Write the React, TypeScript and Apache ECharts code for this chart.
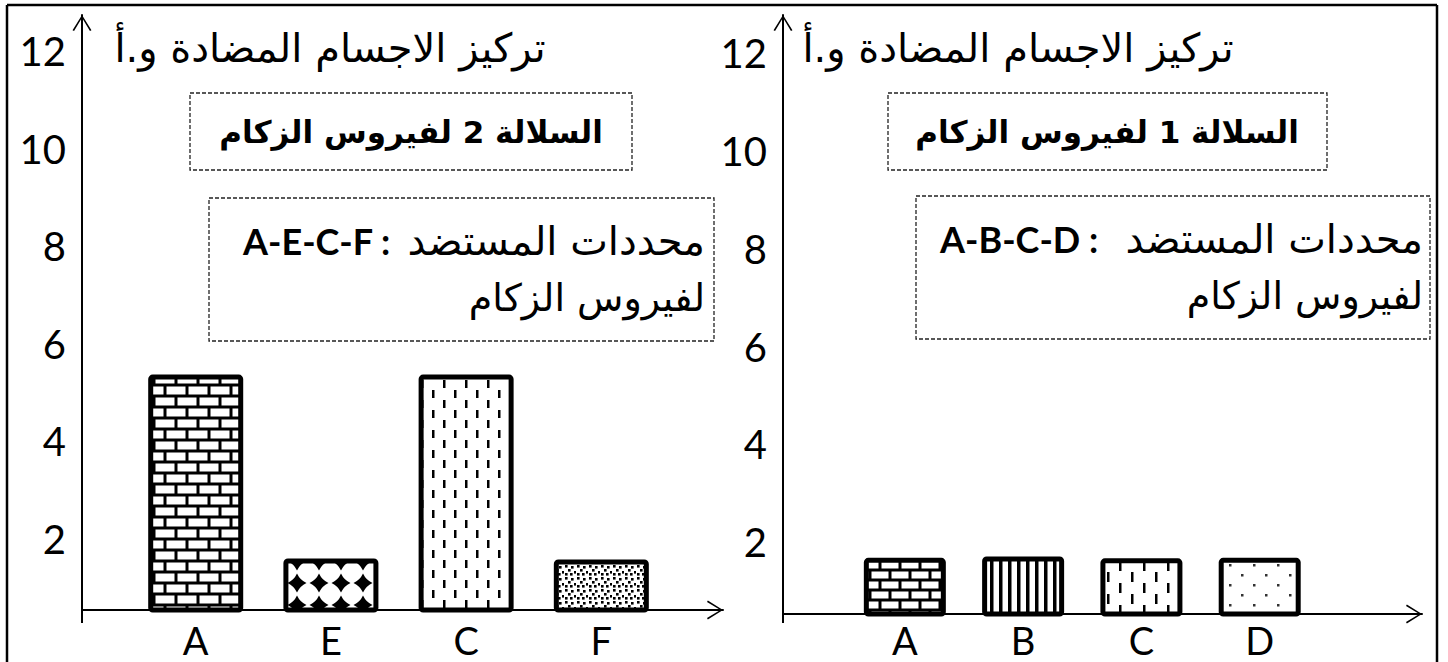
import React, { useEffect, useRef } from "react";
import * as echarts from "echarts";

// ---- data ----
const catsLeft = ["A", "E", "C", "F"];
const valsLeft = [5.37, 1.6, 5.37, 1.58];
const catsRight = ["A", "B", "C", "D"];
const valsRight = [1.68, 1.71, 1.67, 1.68];
const yTicks = [2, 4, 6, 8, 10, 12];

const titleText = "تركيز الاجسام المضادة و.أ";
const strain2 = "السلالة 2 لفيروس الزكام";
const strain1 = "السلالة 1 لفيروس الزكام";
const epitopeLabel = "محددات المستضد";
const fluLine = "لفيروس الزكام";
const epitopesLeft = "A-E-C-F :";
const epitopesRight = "A-B-C-D :";

const ARROW =
  "path://M0,16 L10,0 L20,16 L18.4,16.9 L10,2.8 L1.6,16.9 Z";

function tile(w: number, h: number, draw: (c: CanvasRenderingContext2D) => void) {
  const cv = document.createElement("canvas");
  cv.width = w;
  cv.height = h;
  const ctx = cv.getContext("2d")!;
  ctx.fillStyle = "#fff";
  ctx.fillRect(0, 0, w, h);
  draw(ctx);
  return { image: cv.toDataURL(), imageWidth: w, imageHeight: h, repeat: "repeat" };
}

function brick(W: number, H: number) {
  return tile(W, H * 2, (c) => {
    c.fillStyle = "#000";
    c.fillRect(0, 0, W, H * 2);
    c.fillStyle = "#fff";
    const bw = W - 3;
    const bh = H - 3;
    c.fillRect(1.5, 1.5, bw, bh);
    c.fillRect(-W / 2 + 1.5, H + 1.5, bw, bh);
    c.fillRect(W / 2 + 1.5, H + 1.5, bw, bh);
  });
}

function diamonds() {
  return tile(22, 22, (c) => {
    c.fillStyle = "#000";
    c.beginPath();
    c.moveTo(11, 1.5);
    c.quadraticCurveTo(14, 8, 20.5, 11);
    c.quadraticCurveTo(14, 14, 11, 20.5);
    c.quadraticCurveTo(8, 14, 1.5, 11);
    c.quadraticCurveTo(8, 8, 11, 1.5);
    c.fill();
  });
}

function dashes(W: number, H: number, len: number) {
  return tile(W, H, (c) => {
    c.fillStyle = "#000";
    c.fillRect(3, 0, 2.5, len);
    c.fillRect(3 + W / 2, H / 2, 2.5, len);
  });
}

function stipple() {
  return tile(12, 12, (c) => {
    c.fillStyle = "#000";
    const pts = [
      [1, 1],
      [7, 2],
      [4, 5],
      [10, 7],
      [1, 9],
      [6, 9],
    ];
    pts.forEach(([x, y]) => c.fillRect(x, y, 2.6, 2.6));
  });
}

function stripes() {
  return tile(9, 4, (c) => {
    c.fillStyle = "#000";
    c.fillRect(0, 0, 3.5, 4);
  });
}

function dots() {
  return tile(24, 20, (c) => {
    c.fillStyle = "#333";
    c.fillRect(5, 4, 2.5, 2.5);
    c.fillRect(17, 14, 2.5, 2.5);
  });
}

const LABEL_FONT = "Lato";
const AR_FONT = "DejaVu Sans";

function axisPair(
  gridIndex: number,
  xmin: number,
  xmax: number,
  ymin: number,
  ymax: number,
  cats: string[],
  xLabelMargin: number
) {
  const line = {
    show: true,
    onZero: false,
    lineStyle: { color: "#000", width: 2 },
    symbol: ["none", ARROW],
    symbolSize: [20, 16],
    symbolOffset: [0, -8],
  };
  return {
    x: {
      type: "value",
      gridIndex,
      min: xmin,
      max: xmax,
      axisLine: line,
      axisTick: { show: false },
      splitLine: { show: false },
      axisLabel: {
        customValues: cats.map((_, i) => i + 1),
        formatter: (v: number) => cats[Math.round(v) - 1] ?? "",
        fontSize: 38,
        lineHeight: 40,
        color: "#000",
        fontFamily: LABEL_FONT,
        margin: xLabelMargin,
      },
    },
    y: {
      type: "value",
      gridIndex,
      min: ymin,
      max: ymax,
      axisLine: line,
      axisTick: { show: false },
      splitLine: { show: false },
      axisLabel: {
        customValues: yTicks,
        fontSize: 40,
        color: "#000",
        fontFamily: LABEL_FONT,
        margin: 16,
      },
    },
  };
}

export default function App() {
  const ref = useRef<HTMLDivElement>(null);
  useEffect(() => {
    if (!ref.current) return;
    const chart = echarts.init(ref.current, null, { renderer: "svg" });
    const patsLeft = [brick(22, 11), diamonds(), dashes(22, 20, 8), stipple()];
    const patsRight = [brick(20, 10), stripes(), dashes(24, 22, 10), dots()];
    const L = axisPair(0, 0.159, 4.9, 0.545, 12.74, catsLeft, 10);
    const R = axisPair(1, -0.03, 5.372, 0.532, 12.78, catsRight, 6);

    const barStyle = { borderColor: "#000", borderWidth: 5, borderRadius: 2 };

    const dashedBox = (x: number, y: number, w: number, h: number) => ({
      type: "rect",
      shape: { x, y, width: w, height: h },
      style: { fill: "none", stroke: "#222", lineWidth: 1.3, lineDash: [4, 2] },
      silent: true,
    });
    const txt = (
      x: number,
      y: number,
      text: string,
      size: number,
      bold: boolean,
      align: string,
      family: string = AR_FONT
    ) => ({
      type: "text",
      x,
      y,
      style: {
        text,
        fontSize: size,
        fontFamily: family,
        fontWeight: bold ? "bold" : "normal",
        fill: "#000",
        align,
        verticalAlign: "middle",
      },
      silent: true,
    });

    const option: any = {
      animation: false,
      grid: [
        { left: 82, top: 15, width: 641, height: 595 },
        { left: 783, top: 15, width: 639, height: 599 },
      ],
      xAxis: [L.x, R.x],
      yAxis: [L.y, R.y],
      series: [
        {
          type: "bar",
          xAxisIndex: 0,
          yAxisIndex: 0,
          barWidth: 95,
          clip: true,
          data: valsLeft.map((v, i) => ({
            value: [i + 1, v],
            itemStyle: { ...barStyle, color: patsLeft[i] },
          })),
        },
        {
          type: "bar",
          xAxisIndex: 1,
          yAxisIndex: 1,
          barWidth: 82,
          clip: true,
          data: valsRight.map((v, i) => ({
            value: [i + 1, v],
            itemStyle: { ...barStyle, color: patsRight[i] },
          })),
        },
      ],
      graphic: [
        // outer frame
        { type: "line", shape: { x1: 7, y1: 5, x2: 1437, y2: 5 }, style: { stroke: "#000", lineWidth: 2.5 }, silent: true },
        { type: "line", shape: { x1: 7, y1: 5, x2: 7, y2: 662 }, style: { stroke: "#000", lineWidth: 2.5 }, silent: true },
        { type: "line", shape: { x1: 1437, y1: 5, x2: 1437, y2: 662 }, style: { stroke: "#000", lineWidth: 2.5 }, silent: true },
        // axis tails
        { type: "line", shape: { x1: 82, y1: 610, x2: 82, y2: 623 }, style: { stroke: "#000", lineWidth: 2 }, silent: true },
        { type: "line", shape: { x1: 783, y1: 614, x2: 783, y2: 623 }, style: { stroke: "#000", lineWidth: 2 }, silent: true },
        // titles
        txt(330, 48, titleText, 40, false, "center"),
        txt(1018, 48, titleText, 40, false, "center"),
        // strain boxes
        dashedBox(190, 93, 442, 77),
        txt(411, 132, strain2, 31, true, "center"),
        dashedBox(888, 93, 439, 77),
        txt(1107, 132, strain1, 31, true, "center"),
        // epitope boxes
        dashedBox(209, 198, 505, 143),
        txt(243, 241, epitopesLeft, 36, true, "left", LABEL_FONT),
        txt(705, 241, epitopeLabel, 40, false, "right"),
        txt(705, 298, fluLine, 38, false, "right"),
        dashedBox(916, 196, 514, 143),
        txt(940, 239, epitopesRight, 36, true, "left", LABEL_FONT),
        txt(1423, 239, epitopeLabel, 40, false, "right"),
        txt(1423, 296, fluLine, 38, false, "right"),
      ],
    };
    chart.setOption(option);
    return () => chart.dispose();
  }, []);
  return (
    <div
      ref={ref}
      style={{ position: "fixed", left: 0, top: 0, width: 1448, height: 662, background: "#fff" }}
    />
  );
}
